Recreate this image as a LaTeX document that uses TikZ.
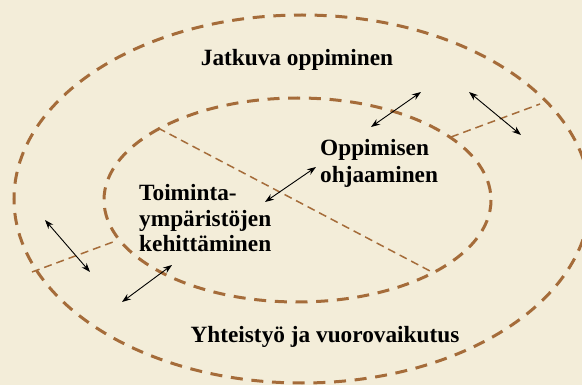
\documentclass[tikz,border=0pt]{standalone}
\usepackage{fontspec}
\setmainfont{Liberation Serif}
\usetikzlibrary{arrows.meta}
\definecolor{bgcol}{RGB}{243,237,217}
\definecolor{brn}{RGB}{165,108,58}
\tikzset{
  ring/.style={draw=brn, line width=3pt, dash pattern=on 12pt off 8.7pt},
  divider/.style={draw=brn, line width=1.5pt, dash pattern=on 8pt off 5pt},
  link/.style={draw=black, line width=0.9pt, {Stealth[length=9pt,width=6.5pt]}-{Stealth[length=9pt,width=6.5pt]}},
  lbl/.style={font=\bfseries\fontsize{23.3}{27}\selectfont, inner sep=0pt, text=black}
}
\begin{document}
\begin{tikzpicture}[x=1pt,y=-1pt]
\useasboundingbox (0,0) rectangle (582,385);
\fill[bgcol] (0,0) rectangle (582,385);
\clip (0,0) rectangle (582,385);
% ellipses
\draw[ring] (302,199) ellipse [x radius=288, y radius=184];
\draw[ring] (297.5,200) ellipse [x radius=193.5, y radius=102];
% divider end points
\coordinate (d1a) at (158,128);
\coordinate (d1b) at (430,271);
\coordinate (d2a) at (451,137);
\coordinate (d2b) at (540,104);
\coordinate (d3a) at (32,272);
\coordinate (d3b) at (113,242);
\draw[divider] (d1a) -- (d1b);
\draw[divider] (d2a) -- (d2b);
\draw[divider] (d3a) -- (d3b);
% arrows
\coordinate (a1s) at (371,127); \coordinate (a1e) at (421,92);
\coordinate (a2s) at (469,92);  \coordinate (a2e) at (521,135);
\coordinate (a3s) at (265,202); \coordinate (a3e) at (316,167);
\coordinate (a4s) at (45,220);  \coordinate (a4e) at (90,272);
\coordinate (a5s) at (122,302); \coordinate (a5e) at (172,265);
\draw[link] (a1s) -- (a1e);
\draw[link] (a2s) -- (a2e);
\draw[link] (a3s) -- (a3e);
\draw[link] (a4s) -- (a4e);
\draw[link] (a5s) -- (a5e);
% labels
\node[lbl, anchor=base] (jat) at (297,66) {Jatkuva oppiminen};
\node[lbl, anchor=base west] (opp1) at (320,156) {Oppimisen};
\node[lbl, anchor=base west] (opp2) at (320,183) {ohjaaminen};
\node[lbl, anchor=base west] (toi1) at (139,201) {Toiminta-};
\node[lbl, anchor=base west] (toi2) at (139,227) {ympäristöjen};
\node[lbl, anchor=base west] (toi3) at (139,252) {kehittäminen};
\node[lbl, anchor=base] (yht) at (325,343) {Yhteistyö ja vuorovaikutus};
\end{tikzpicture}
\end{document}
